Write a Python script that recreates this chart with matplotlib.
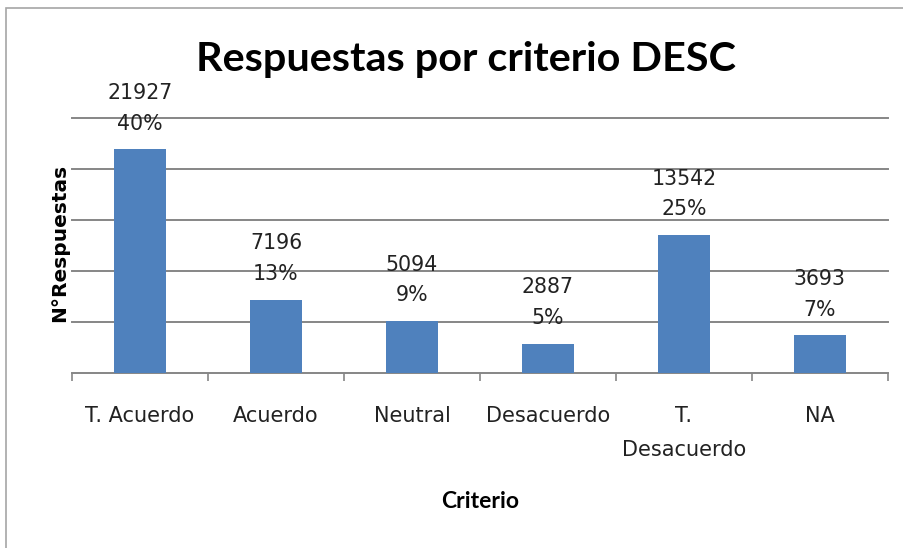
import matplotlib
matplotlib.use("Agg")
import matplotlib.pyplot as plt
from matplotlib.patches import Rectangle

categories = ["T. Acuerdo", "Acuerdo", "Neutral", "Desacuerdo", "T.\nDesacuerdo", "NA"]
counts = [21927, 7196, 5094, 2887, 13542, 3693]
percents = ["40%", "13%", "9%", "5%", "25%", "7%"]

fig = plt.figure(figsize=(9.04, 5.48), dpi=100)
fig.patches.append(Rectangle((6/904, -0.1), 1.2, 1 - 8/548 + 0.1, transform=fig.transFigure,
                             fill=False, edgecolor="#a6a6a6", linewidth=1.2))

ax = fig.add_axes([72/904, 1 - 373/548, 816/904, 255/548])
x = list(range(len(categories)))
ax.bar(x, counts, width=0.38, color="#4F81BD", zorder=3)
ax.set_xlim(-0.5, len(categories) - 0.5)
ax.set_ylim(0, 25000)
ax.set_yticks([5000, 10000, 15000, 20000, 25000])
ax.yaxis.grid(True, color="#868686", linewidth=1.4)
for gl in ax.get_ygridlines():
    gl.set_clip_on(False)
ax.tick_params(axis="y", length=0, labelleft=False)
for s in ["left", "right", "top"]:
    ax.spines[s].set_visible(False)
ax.spines["bottom"].set_color("#868686")
ax.spines["bottom"].set_linewidth(1.4)

ax.set_xticks([i - 0.5 for i in range(len(categories) + 1)], minor=False)
ax.set_xticklabels([])
ax.tick_params(axis="x", which="major", length=6, width=1.2, color="#868686", direction="out")
ax.set_xticks(x, minor=True)
ax.set_xticklabels(categories, minor=True, fontsize=15, linespacing=1.9, family="DejaVu Sans",
                   color="#222222")
ax.tick_params(axis="x", which="minor", length=0, pad=23.5)
for lbl in ax.get_xticklabels(minor=True):
    lbl.set_verticalalignment("top")

for xi, c, p in zip(x, counts, percents):
    ax.annotate(p, (xi, c), xytext=(0, 18.5), textcoords="offset points",
                ha="center", va="center", fontsize=14.8, color="#222222")
    ax.annotate(str(c), (xi, c), xytext=(0, 40.5), textcoords="offset points",
                ha="center", va="center", fontsize=14.8, color="#222222")

fig.text(466/904, 1 - 60/548, "Respuestas por criterio DESC", ha="center", va="center",
         fontsize=29.8, fontweight="bold", family="Lato")
fig.text(480/904, 1 - 501/548, "Criterio", ha="center", va="center",
         fontsize=16.5, fontweight="bold", family="Lato")
fig.text(60/904, 1 - 243/548, "N°Respuestas", ha="center", va="center", rotation=90,
         fontsize=14.5, fontweight="bold", family="DejaVu Sans")

fig.savefig("out.png", dpi=100)
